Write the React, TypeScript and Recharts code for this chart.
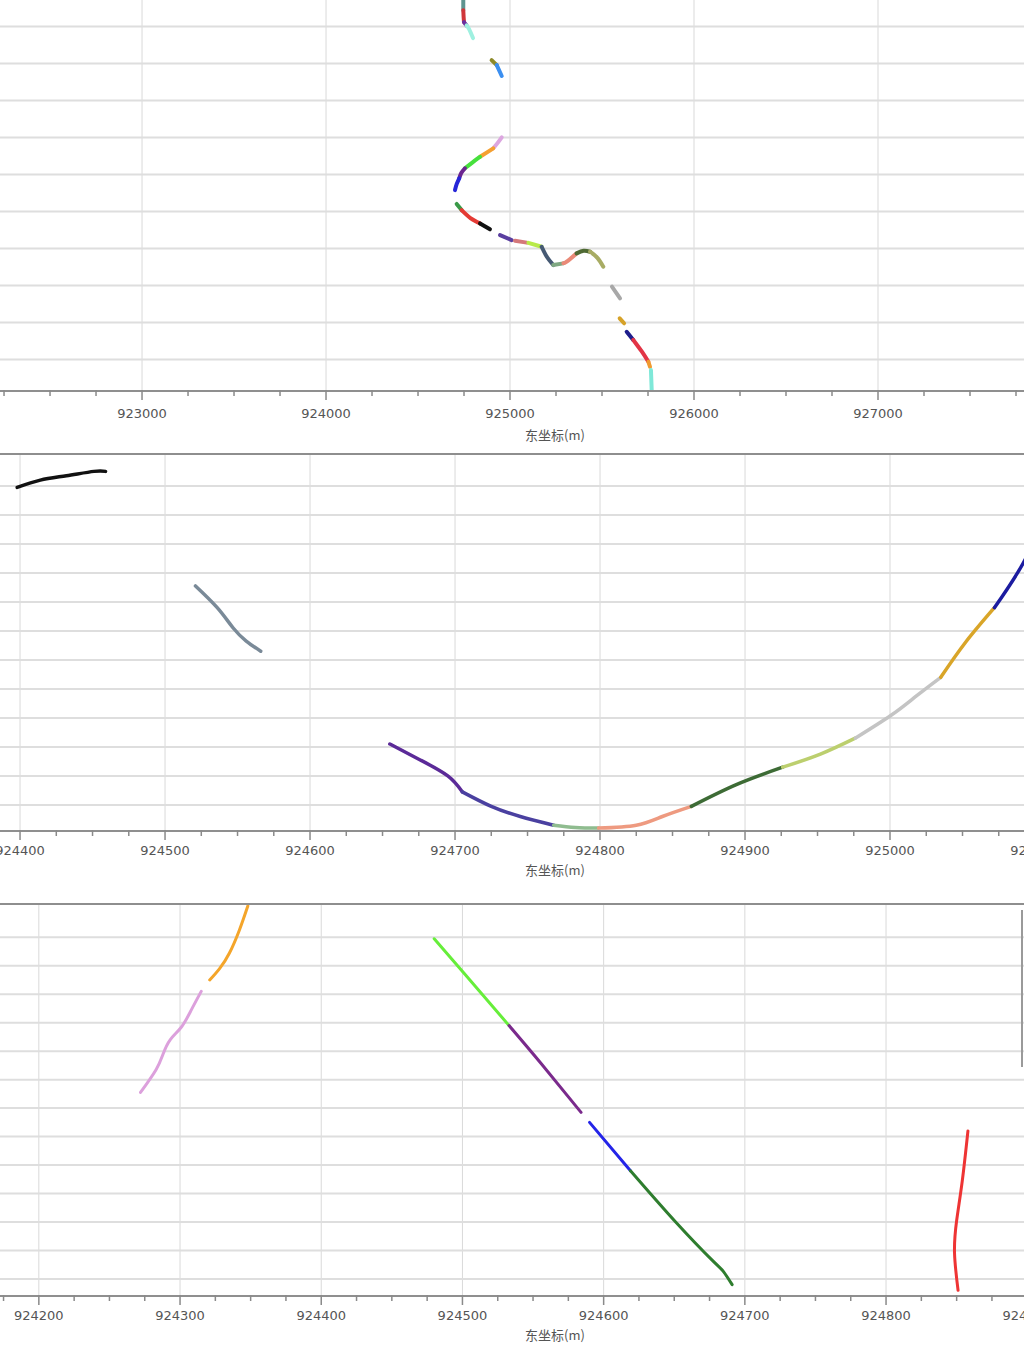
import React from 'react';
import { LineChart, Line, XAxis, YAxis } from 'recharts';

type Pt = [number, number];

// ---- panel 1: overview, east coordinate vs north coordinate ----
const p1Paths: Pt[][] = [
  [[924745, 3048190], [924746, 3048144], [924746, 3048089]],
  [[924746, 3048089], [924748, 3048050], [924750, 3048024]],
  [[924750, 3048024], [924764, 3048006]],
  [[924764, 3048006], [924777, 3047988], [924799, 3047938]],
  [[924900, 3047819], [924928, 3047792]],
  [[924928, 3047792], [924955, 3047733]],
  [[924955, 3047401], [924932, 3047370], [924909, 3047342]],
  [[924909, 3047342], [924875, 3047320], [924837, 3047296]],
  [[924837, 3047296], [924795, 3047265], [924755, 3047234]],
  [[924755, 3047234], [924735, 3047208], [924724, 3047180]],
  [[924724, 3047180], [924710, 3047148], [924701, 3047116]],
  [[924710, 3047041], [924737, 3047008]],
  [[924737, 3047008], [924785, 3046965], [924837, 3046936]],
  [[924837, 3046936], [924891, 3046904]],
  [[924946, 3046873], [925009, 3046846]],
  [[925027, 3046842], [925091, 3046832]],
  [[925100, 3046831], [925172, 3046810]],
  [[925172, 3046810], [925200, 3046756], [925235, 3046711]],
  [[925235, 3046711], [925290, 3046720]],
  [[925290, 3046720], [925308, 3046729], [925362, 3046774]],
  [[925362, 3046774], [925400, 3046788], [925435, 3046783]],
  [[925435, 3046783], [925475, 3046750], [925507, 3046702]],
  [[925554, 3046594], [925598, 3046531]],
  [[925596, 3046423], [925620, 3046396]],
  [[925634, 3046350], [925670, 3046306]],
  [[925670, 3046306], [925715, 3046245], [925752, 3046188]],
  [[925752, 3046188], [925761, 3046161]],
  [[925766, 3046143], [925770, 3046035]],
];
const p1Colors = [
  '#5f9490', '#d0363a', '#6a2fa0', '#9ff0e0', '#8d8a2a', '#3c8ff0', '#dca6e0',
  '#f5a030', '#46e03c', '#6b2590', '#2626d8', '#3a9a48', '#e43a34', '#111111',
  '#5a3fa0', '#d4787a', '#b8ea4a', '#465a74', '#7fa882', '#ea8a78', '#4f6a34',
  '#a8ac64', '#a8a8a8', '#d6a228', '#1e1e8c', '#e23446', '#f09a30', '#7fe8d8',
];
const p1Major = [922000, 923000, 924000, 925000, 926000, 927000, 928000];
const p1GridY = [
  3046200, 3046400, 3046600, 3046800, 3047000, 3047200,
  3047400, 3047600, 3047800, 3048000, 3048200,
];

// ---- panel 2: zoom on the valley ----
const p2Paths: Pt[][] = [
  [[924398, 3046799], [924414, 3046804], [924432, 3046807], [924451, 3046810], [924459, 3046810]],
  [[924521, 3046731], [924536, 3046716], [924547, 3046702], [924556, 3046693], [924566, 3046686]],
  [[924655, 3046622], [924676, 3046611], [924695, 3046600], [924705, 3046589]],
  [[924705, 3046589], [924725, 3046579], [924745, 3046572], [924768, 3046566]],
  [[924768, 3046566], [924783, 3046564.4], [924799, 3046564]],
  [[924799, 3046564], [924825, 3046566], [924843, 3046572], [924863, 3046579]],
  [[924863, 3046579], [924894, 3046594], [924926, 3046606]],
  [[924926, 3046606], [924952, 3046615], [924976, 3046626]],
  [[924976, 3046626], [925001, 3046642], [925018, 3046655], [925035, 3046668]],
  [[925035, 3046668], [925052, 3046692], [925072, 3046716]],
  [[925072, 3046716], [925092, 3046747], [925110, 3046785]],
];
const p2Colors = [
  '#111111', '#7a8a98', '#5b2a98', '#4a40a0', '#8fbc8f', '#ee9a80',
  '#3d6b35', '#bccf6e', '#c4c4c4', '#d9a528', '#1c1ca0',
];
const p2Major = [924400, 924500, 924600, 924700, 924800, 924900, 925000, 925100];
const p2GridY = [
  3046580, 3046600, 3046620, 3046640, 3046660, 3046680, 3046700,
  3046720, 3046740, 3046760, 3046780, 3046800,
];

// ---- panel 3: zoom on the straight reaches ----
const p3Paths: Pt[][] = [
  [[924348, 3045762], [924342, 3045745], [924335, 3045729], [924328, 3045718], [924321, 3045710]],
  [[924315, 3045702], [924308, 3045689], [924301, 3045677], [924293, 3045668], [924288, 3045658], [924283, 3045647], [924272, 3045631]],
  [[924480, 3045739], [924501, 3045715], [924533, 3045678]],
  [[924533, 3045678], [924556, 3045651], [924584, 3045617]],
  [[924590, 3045610], [924619, 3045576]],
  [[924619, 3045576], [924651, 3045540], [924677, 3045513], [924685, 3045505], [924691, 3045496]],
  [[924858, 3045604], [924854, 3045569], [924850, 3045541], [924848.5, 3045518], [924851, 3045492]],
];
const p3Colors = ['#f4a52a', '#dca0dc', '#66ee3a', '#7a2a8c', '#2424e8', '#2e7d2e', '#ee3434'];
const p3Major = [924200, 924300, 924400, 924500, 924600, 924700, 924800, 924900];
const p3GridY = [
  3045500, 3045520, 3045540, 3045560, 3045580, 3045600, 3045620,
  3045640, 3045660, 3045680, 3045700, 3045720, 3045740,
];

const AXIS_TITLE = '东坐标(m)';
const NUM_FONT = "'DejaVu Sans', sans-serif";
const CJK_FONT = "'Noto Sans CJK SC', sans-serif";

const AxisTick = (props: any) => {
  const { x, y, payload, majorStep, dy } = props;
  const v = payload.value;
  const major = Math.abs(v / majorStep - Math.round(v / majorStep)) < 1e-6;
  return (
    <g>
      <line x1={x} x2={x} y1={y - 1} y2={y + (major ? 9 : 5)} stroke="#8a8a8a" strokeWidth={1.5} />
      {major && (
        <text x={x} y={y + dy} textAnchor="middle" dominantBaseline="central" fontSize={13} fill="#555" fontFamily={NUM_FONT}>
          {v}
        </text>
      )}
    </g>
  );
};

interface PanelProps {
  top: number;
  plotHeight: number;
  paths: Pt[][];
  colors: string[];
  lineWidth: number;
  xDomain: [number, number];
  yDomain: [number, number];
  major: number[];
  majorStep: number;
  minorStep: number;
  gridY: number[];
  tickDy: number;
  titleOffset: number;
}

const Panel: React.FC<PanelProps> = (p) => {
  const [x0, x1] = p.xDomain;
  const [y0, y1] = p.yDomain;
  const minor: number[] = [];
  for (let v = Math.ceil(x0 / p.minorStep) * p.minorStep; v <= x1; v += p.minorStep) minor.push(v);
  const major = p.major.filter((v) => v >= x0 && v <= x1);

  // grid drawn as plain two-point series so it sits under the traces
  const hGrid = p.gridY.map((v) => [{ x: x0, y: v }, { x: x1, y: v }]);
  const vGrid = major.map((v) => [{ x: v, y: y0 }, { x: v, y: y1 }]);

  return (
    <div style={{ position: 'absolute', left: -60, top: p.top }}>
      <LineChart width={1230} height={p.plotHeight + 56} margin={{ top: 0, right: 0, bottom: 0, left: 0 }}>
        <XAxis
          type="number"
          dataKey="x"
          domain={p.xDomain}
          allowDataOverflow
          ticks={minor}
          interval={0}
          height={56}
          tickSize={0}
          tickMargin={0}
          tickLine={false}
          axisLine={{ stroke: '#8f8f8f', strokeWidth: 2 }}
          tick={(tp: any) => <AxisTick {...tp} majorStep={p.majorStep} dy={p.tickDy} />}
          label={{ value: AXIS_TITLE, position: 'insideBottom', offset: p.titleOffset, fill: '#555', fontSize: 13, fontFamily: CJK_FONT }}
        />
        <YAxis type="number" dataKey="y" domain={p.yDomain} allowDataOverflow hide />
        {vGrid.map((d, i) => (
          <Line key={`v${i}`} data={d} dataKey="y" type="linear" stroke="#d9d9d9" strokeWidth={1} dot={false} activeDot={false} isAnimationActive={false} />
        ))}
        {hGrid.map((d, i) => (
          <Line key={`h${i}`} data={d} dataKey="y" type="linear" stroke="#dedede" strokeWidth={2} dot={false} activeDot={false} isAnimationActive={false} />
        ))}
        {p.paths.map((pts, i) => (
          <Line
            key={i}
            data={pts.map(([x, y]) => ({ x, y }))}
            dataKey="y"
            type="natural"
            stroke={p.colors[i]}
            strokeWidth={p.lineWidth}
            strokeLinecap="round"
            dot={false}
            activeDot={false}
            isAnimationActive={false}
          />
        ))}
      </LineChart>
    </div>
  );
};

export default function App() {
  return (
    <div style={{ position: 'absolute', left: 0, top: 0, width: 1024, height: 1366, overflow: 'hidden', background: '#fff' }}>
      <Panel
        top={-40}
        plotHeight={431}
        paths={p1Paths}
        colors={p1Colors}
        lineWidth={4}
        xDomain={[921902, 928587]}
        yDomain={[3046030, 3048360]}
        major={p1Major}
        majorStep={1000}
        minorStep={250}
        gridY={p1GridY}
        tickDy={22}
        titleOffset={7}
      />
      <Panel
        top={455}
        plotHeight={376}
        paths={p2Paths}
        colors={p2Colors}
        lineWidth={3.5}
        xDomain={[924344.8, 925193.1]}
        yDomain={[3046562, 3046821.3]}
        major={p2Major}
        majorStep={100}
        minorStep={25}
        gridY={p2GridY}
        tickDy={19}
        titleOffset={12}
      />
      <Panel
        top={905}
        plotHeight={391}
        paths={p3Paths}
        colors={p3Colors}
        lineWidth={3}
        xDomain={[924130, 925001.1]}
        yDomain={[3045488, 3045762.7]}
        major={p3Major}
        majorStep={100}
        minorStep={25}
        gridY={p3GridY}
        tickDy={19}
        titleOffset={12}
      />
      <div style={{ position: 'absolute', left: 0, top: 453, width: 1024, height: 2, background: '#8e8e8e' }} />
      <div style={{ position: 'absolute', left: 0, top: 903, width: 1024, height: 2, background: '#8e8e8e' }} />
      <div style={{ position: 'absolute', left: 1021, top: 910, width: 2, height: 157, background: '#9a9a9a' }} />
    </div>
  );
}
